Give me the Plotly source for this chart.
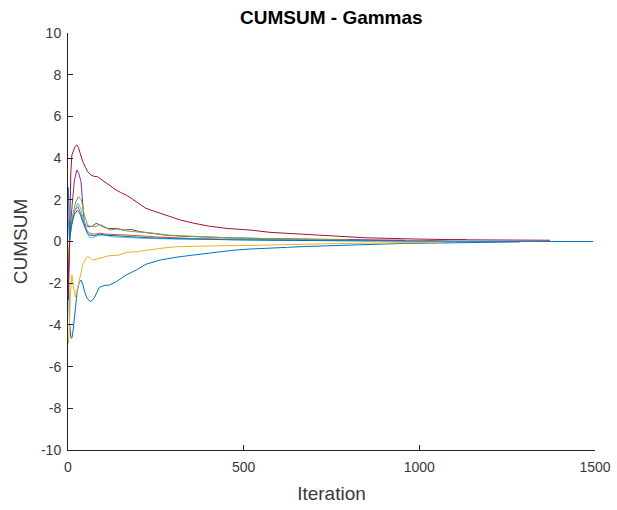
import plotly.graph_objects as go

# ---- data ----
blue_x = [1, 4, 8, 11, 15, 20, 26, 32, 37, 42, 47, 55, 65, 75, 89, 105, 118, 137, 165, 194, 222, 262, 310, 357, 420, 470, 518, 575, 625, 675, 755, 850, 960, 1060, 1160, 1287]
blue_y = [-1.0, -3.8, -4.6, -4.64, -4.2, -3.2, -2.4, -1.95, -1.85, -2.05, -2.4, -2.75, -2.89, -2.7, -2.2, -2.1, -2.09, -1.93, -1.61, -1.37, -1.09, -0.89, -0.75, -0.65, -0.52, -0.42, -0.36, -0.33, -0.28, -0.24, -0.2, -0.13, -0.09, -0.07, -0.04, -0.02]

orange_x = [1, 5, 12, 20, 28, 35, 45, 55, 63, 75, 90, 110, 140, 170, 200, 250, 300, 360, 420, 500, 600, 700, 800, 900, 1000, 1135]
orange_y = [-1.5, 0.2, 1.0, 1.5, 1.67, 1.4, 0.9, 0.5, 0.39, 0.35, 0.4, 0.35, 0.33, 0.32, 0.28, 0.22, 0.18, 0.14, 0.12, 0.1, 0.08, 0.06, 0.05, 0.04, 0.03, 0.1]

yellow_x = [1, 3, 7, 11, 16, 21, 28, 35, 42, 50, 56, 63, 70, 80, 89, 100, 118, 146, 165, 194, 222, 262, 309, 360, 452, 518, 575, 625, 680, 755, 850, 960, 1059]
yellow_y = [-4.9, -4.5, -2.5, -1.6, -2.2, -2.65, -2.2, -1.6, -1.1, -0.85, -0.73, -0.78, -0.89, -0.85, -0.81, -0.78, -0.68, -0.65, -0.52, -0.49, -0.41, -0.33, -0.25, -0.22, -0.2, -0.19, -0.16, -0.14, -0.12, -0.1, -0.08, -0.05, -0.04]

purple_x = [1, 6, 12, 18, 25, 31, 37, 42, 46, 52, 60, 70, 80, 90, 99, 115, 137, 160, 180, 205, 240, 280, 330, 400, 480, 560, 650, 750, 850, 960]
purple_y = [-2.0, 0.5, 1.8, 2.9, 3.43, 3.25, 2.87, 1.99, 0.95, 0.75, 0.7, 0.75, 0.87, 0.8, 0.71, 0.62, 0.63, 0.55, 0.58, 0.47, 0.4, 0.3, 0.25, 0.2, 0.17, 0.14, 0.12, 0.1, 0.08, 0.06]

green_x = [1, 6, 14, 22, 30, 38, 46, 56, 65, 80, 89, 100, 120, 140, 170, 200, 240, 290, 350, 420, 500, 600, 700, 800]
green_y = [-1.0, 0.5, 1.3, 1.9, 2.15, 2.0, 1.3, 0.79, 0.72, 0.71, 0.82, 0.75, 0.55, 0.6, 0.5, 0.47, 0.4, 0.3, 0.24, 0.2, 0.16, 0.12, 0.1, 0.08]

cyan_x = [1, 5, 12, 20, 28, 36, 45, 55, 61, 70, 85, 100, 130, 170, 220, 300, 380, 460, 550, 650, 750, 860]
cyan_y = [1.0, 0.2, 0.9, 1.5, 1.83, 1.6, 1.0, 0.4, 0.2, 0.18, 0.28, 0.31, 0.22, 0.18, 0.15, 0.12, 0.1, 0.08, 0.06, 0.05, 0.04, 0.03]

red_x = [1, 4, 8, 11, 16, 20, 25, 30, 36, 42, 50, 56, 65, 75, 84, 95, 108, 122, 137, 150, 165, 180, 194, 208, 222, 242, 262, 290, 320, 357, 400, 450, 518, 575, 622, 680, 750, 845, 983, 1135, 1372]
red_y = [-2.8, 0.5, 3.3, 4.15, 4.4, 4.55, 4.63, 4.5, 4.15, 3.83, 3.55, 3.35, 3.19, 3.12, 3.11, 2.98, 2.79, 2.62, 2.47, 2.35, 2.23, 2.07, 1.91, 1.75, 1.59, 1.47, 1.35, 1.18, 1.03, 0.88, 0.74, 0.63, 0.55, 0.44, 0.39, 0.33, 0.26, 0.18, 0.12, 0.08, 0.06]

blue2_x = [1, 4, 10, 18, 27, 35, 45, 55, 63, 75, 90, 110, 140, 180, 230, 300, 380, 470, 570, 680, 800, 950, 1100, 1300, 1495]
blue2_y = [2.6, 0.0, 0.8, 1.3, 1.5, 1.3, 0.8, 0.4, 0.3, 0.28, 0.35, 0.3, 0.27, 0.22, 0.18, 0.14, 0.1, 0.08, 0.06, 0.04, 0.03, 0.02, 0.01, 0.01, 0.0]

series = [
    (blue_x, blue_y, "#0072BD"),
    (orange_x, orange_y, "#D95319"),
    (yellow_x, yellow_y, "#EDB120"),
    (purple_x, purple_y, "#7E2F8E"),
    (green_x, green_y, "#77AC30"),
    (cyan_x, cyan_y, "#4DBEEE"),
    (red_x, red_y, "#A2142F"),
    (blue2_x, blue2_y, "#0072BD"),
]

x_ticks = [0, 500, 1000, 1500]
x_labels = ["0", "500", "1000", "1500"]
y_ticks = [-10, -8, -6, -4, -2, 0, 2, 4, 6, 8, 10]
y_labels = ["-10", "-8", "-6", "-4", "-2", "0", "2", "4", "6", "8", "10"]

fig = go.Figure()
for xs, ys, c in series:
    fig.add_trace(go.Scatter(x=xs, y=ys, mode="lines",
                             line=dict(color=c, width=1), showlegend=False,
                             hoverinfo="skip"))

axis_color = "#262626"
text_color = "#3a3a3a"
font_family = "Liberation Sans, Arial, sans-serif"

fig.update_layout(
    width=617, height=510,
    margin=dict(l=68, r=22, t=33, b=60, autoexpand=False),
    paper_bgcolor="white", plot_bgcolor="white",
    font=dict(family=font_family, color=text_color, size=14),
    title=dict(text="<b>CUMSUM - Gammas</b>", x=0.537, xanchor="center",
               y=0.966, yanchor="middle",
               font=dict(size=19, color="black", family=font_family)),
    xaxis=dict(range=[0, 1500], tickvals=x_ticks, ticktext=x_labels,
               ticks="inside", ticklen=5, automargin=False,
               ticklabelstandoff=4,
               tickcolor=axis_color, showline=True, linecolor=axis_color,
               linewidth=1, showgrid=False, zeroline=False, mirror=False,
               tickfont=dict(size=14, color=text_color),
               title=dict(text="Iteration", font=dict(size=19, color=text_color),
                          standoff=12)),
    yaxis=dict(range=[-10, 10], tickvals=y_ticks, ticktext=y_labels,
               ticks="inside", ticklen=5, automargin=False,
               ticklabelstandoff=3,
               tickcolor=axis_color, showline=True, linecolor=axis_color,
               linewidth=1, showgrid=False, zeroline=False, mirror=False,
               tickfont=dict(size=14, color=text_color),
               title=dict(text="CUMSUM", font=dict(size=19, color=text_color),
                          standoff=8)),
)

fig.write_html("out.html", config={"displayModeBar": False},
               post_script="document.body.style.margin='0';document.body.style.padding='0';")
